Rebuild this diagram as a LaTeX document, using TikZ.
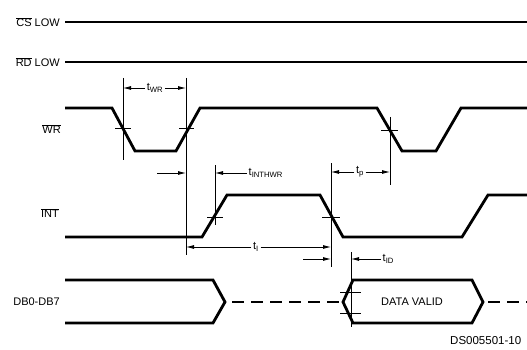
\documentclass[tikz,border=0pt]{standalone}
\usepackage{fontspec}
\setmainfont{Liberation Sans}
\usetikzlibrary{arrows.meta}

\begin{document}
\begin{tikzpicture}[x=1pt, y=-1pt,
    sig/.style={line width=2.8pt, line join=miter},
    busdash/.style={sig, dash pattern=on 12pt off 7pt},
    refline/.style={line width=0.8pt},
    dim/.style={line width=0.8pt, -{Latex[length=8pt,width=4pt]}},
    lbl/.style={anchor=east, inner sep=0pt, font=\fontsize{11}{12}\selectfont},
    tlbl/.style={inner sep=1.5pt, font=\fontsize{11}{12}\selectfont}]
    \useasboundingbox (0,0) rectangle (527,350);

    % signal names
    \node[lbl] (CSl) at (60,22) {$\overline{\mbox{CS}}$ LOW};
    \node[lbl] (RDl) at (60,62) {$\overline{\mbox{RD}}$ LOW};
    \node[lbl] (WRl) at (61,129) {$\overline{\mbox{WR}}$};
    \node[lbl] (INTl) at (59,213) {$\overline{\mbox{INT}}$};
    \node[lbl] (DBl) at (60,302) {DB0-DB7};

    % waveforms
    \draw[sig] (65,22) -- (527,22);
    \draw[sig] (65,62) -- (527,62);
    \draw[sig] (65,108) -- (112,108) -- (135,151) -- (176,151) -- (200,108)
      -- (377,108) -- (402,151) -- (436,151) -- (461,108) -- (527,108);
    \draw[sig] (65,237) -- (202,237) -- (227,195) -- (320,195) -- (343,237)
      -- (462,237) -- (488,195) -- (527,195);
    \draw[sig] (65,280) -- (213,280) -- (225,302) -- (213,323) -- (65,323);
    \draw[busdash, dash phase=12pt] (225,302) -- (343,302);
    \draw[sig] (343,302) -- (353,280) -- (472,280) -- (483,302) -- (472,323)
      -- (353,323) -- cycle;
    \draw[busdash, dash phase=14pt] (483,302) -- (527,302);
    \node[tlbl] (dv) at (412,302) {DATA VALID};

    % reference lines
    \coordinate (Wa1) at (123,78);  \coordinate (Wa2) at (123,160);
    \coordinate (Wb1) at (186,78);  \coordinate (Wb2) at (186,255);
    \coordinate (Ia1) at (215,165); \coordinate (Ia2) at (215,225);
    \coordinate (Ib1) at (331,163); \coordinate (Ib2) at (331,267);
    \coordinate (Wc1) at (390,117); \coordinate (Wc2) at (390,185);
    \coordinate (Da1) at (351,252); \coordinate (Da2) at (351,327);
    \draw[refline] (Wa1) -- (Wa2);
    \draw[refline] (Wb1) -- (Wb2);
    \draw[refline] (Ia1) -- (Ia2);
    \draw[refline] (Ib1) -- (Ib2);
    \draw[refline] (Wc1) -- (Wc2);
    \draw[refline] (Da1) -- (Da2);

    % crossing ticks
    \draw[refline] (115,128) -- (131,128);
    \draw[refline] (179,128) -- (194,128);
    \draw[refline] (381,130) -- (398,130);
    \draw[refline] (207,217) -- (223,217);
    \draw[refline] (322,217) -- (340,217);
    \draw[refline] (340,292) -- (361,292);
    \draw[refline] (340,313) -- (361,313);

    % timing labels
    \node[tlbl] (twr) at (155,88) {t\textsubscript{WR}};
    \draw[dim] (twr) -- (twr -| Wa1);
    \draw[dim] (twr) -- (twr -| Wb1);

    \coordinate (h1) at (157,173);
    \draw[dim] (h1) -- (h1 -| Wb1);
    \node[tlbl, anchor=west] (tinthwr) at (247,173) {t\textsubscript{INTHWR}};
    \draw[dim] (tinthwr) -- (tinthwr -| Ia1);

    \node[tlbl] (tp) at (360,172) {t\textsubscript{p}};
    \draw[dim] (tp) -- (tp -| Ib1);
    \draw[dim] (tp) -- (tp -| Wc1);

    \node[tlbl] (ti) at (256,247) {t\textsubscript{I}};
    \draw[dim] (ti) -- (ti -| Wb1);
    \draw[dim] (ti) -- (ti -| Ib1);

    \coordinate (d1) at (303,259);
    \draw[dim] (d1) -- (d1 -| Ib1);
    \node[tlbl, anchor=west] (tid) at (381,259) {t\textsubscript{ID}};
    \draw[dim] (tid) -- (tid -| Da1);

    \node[anchor=west, inner sep=0pt, font=\fontsize{11.5}{12}\selectfont] (ds) at (450,341) {DS005501-10};
\end{tikzpicture}
\end{document}
